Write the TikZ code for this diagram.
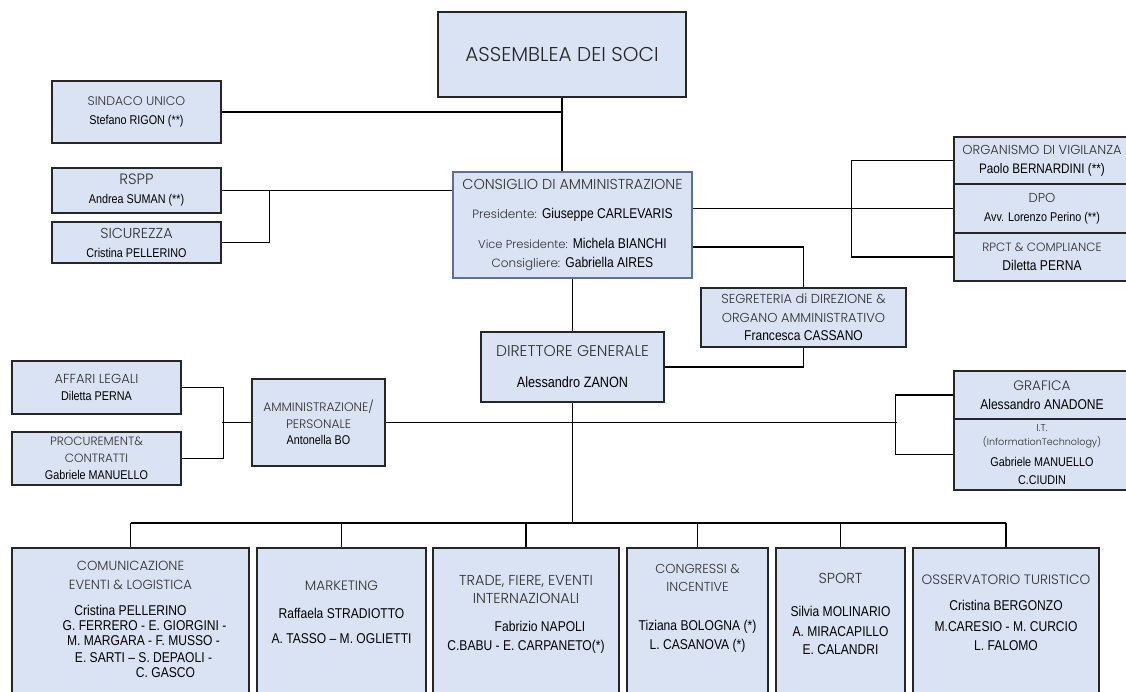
\documentclass[tikz,border=0pt]{standalone}
\usepackage{fontspec}
\usepackage{tikz}
\usetikzlibrary{calc,positioning}

\newfontfamily\headfont{Poppins Light}
\newfontfamily\namefont{Liberation Sans}[FakeStretch=0.85]
\definecolor{BoxFill}{HTML}{DAE3F3}
\definecolor{HeadGray}{HTML}{303030}
\definecolor{CdaBorder}{HTML}{5B7195}
\newcommand\hd[2][13.5]{{\headfont\fontsize{#1}{#1}\selectfont\color{HeadGray}#2}}
\newcommand\nm[2][14.2]{{\namefont\fontsize{#1}{#1}\selectfont #2}}

\begin{document}
\begin{tikzpicture}[x=1pt,y=-1pt]
          \tikzset{UnitBox/.style={draw=black!85, fill=BoxFill, line width=1.1pt, inner sep=0pt,
                                   align=center, font=\fontsize{12}{15}\selectfont},
                   UnitText/.style={inner sep=0pt, align=center, anchor=north, font=\fontsize{12}{15}\selectfont},
                   LinkStyle/.style={line width=1.7pt, black}}
          \useasboundingbox (0,0) rectangle (1126,692);

          % top of the chart
          \node[UnitBox, minimum width=248, minimum height=85] (soci) at (562,54.5)
               {\hd[20]{\color{black!85}ASSEMBLEA DEI SOCI}};
          \node[UnitBox, minimum width=169, minimum height=62] (sindaco) at (136.5,112)
               {\hd[12.5]{SINDACO UNICO}\\[4pt]\nm[12.7]{Stefano RIGON (**)}};
          \node[UnitBox, minimum width=169, minimum height=45] (rspp) at (136.5,190.5)
               {\hd[15]{RSPP}\\[4pt]\nm[12.7]{Andrea SUMAN (**)}};
          \node[UnitBox, minimum width=169, minimum height=41] (sicurezza) at (136.5,242.5)
               {\hd[14.4]{SICUREZZA}\\[4pt]\nm[12.7]{Cristina PELLERINO}};
          \node[UnitBox, draw=CdaBorder, minimum width=239, minimum height=106] (cda) at (572.5,225)
               {\hd[14.4]{CONSIGLIO DI AMMINISTRAZIONE}\\[14pt]
                \hd[12]{Presidente:} \nm{Giuseppe CARLEVARIS}\\[15pt]
                \hd[11.5]{Vice Presidente:} \nm{Michela BIANCHI}\\[4pt]
                \hd[12]{Consigliere:} \nm{Gabriella AIRES}};

          % control bodies on the right
          \node[UnitBox, minimum width=176, minimum height=47] (odv) at (1042,160.5)
               {\hd[13]{ORGANISMO DI VIGILANZA}\\[4pt]\nm[13.8]{Paolo BERNARDINI (**)}};
          \node[UnitBox, minimum width=176, minimum height=49] (dpo) at (1042,208.5)
               {\hd[13]{DPO}\\[4pt]\nm[12.7]{Avv. Lorenzo Perino (**)}};
          \node[UnitBox, minimum width=176, minimum height=48] (rpct) at (1042,257)
               {\hd[12]{RPCT \& COMPLIANCE}\\[4pt]\nm{Diletta PERNA}};
          \node[UnitBox, minimum width=205, minimum height=59] (segreteria) at (803.5,317.5)
               {\hd[13]{SEGRETERIA di DIREZIONE \&}\\[4pt]\hd[13]{ORGANO AMMINISTRATIVO}\\[3pt]\nm{Francesca CASSANO}};
          \node[UnitBox, minimum width=183, minimum height=70] (dg) at (572.5,367)
               {\hd[15.5]{DIRETTORE GENERALE}\\[16pt]\nm[14.9]{Alessandro ZANON}};

          % staff level
          \node[UnitBox, minimum width=169, minimum height=53] (affari) at (96.5,387.5)
               {\hd[13.1]{AFFARI LEGALI}\\[2pt]\nm[12.7]{Diletta PERNA}};
          \node[UnitBox, minimum width=169, minimum height=53] (procurement) at (96.5,458.5)
               {\hd[12]{PROCUREMENT\&}\\[2pt]\hd[12]{CONTRATTI}\\[2pt]\nm[12.7]{Gabriele MANUELLO}};
          \node[UnitBox, minimum width=133, minimum height=87] (amministrazione) at (318.5,422.5)
               {\hd[12.3]{AMMINISTRAZIONE/}\\[2pt]\hd[12.3]{PERSONALE}\\[1pt]\nm[12.7]{Antonella BO}};
          \node[UnitBox, minimum width=176, minimum height=48] (grafica) at (1042,395)
               {\hd[13.7]{GRAFICA}\\[4pt]\nm{Alessandro ANADONE}};
          \node[UnitBox, minimum width=176, minimum height=71] (it) at (1042,454.5)
               {\hd[10]{I.T.}\\[-1pt]\hd[9.6]{(InformationTechnology)}\\[6pt]\nm[12.7]{Gabriele MANUELLO}\\[3pt]\nm[12.7]{C.CIUDIN}};

          % operating areas
          \node[UnitBox, minimum width=237, minimum height=152] (com) at (130.5,624) {};
          \node[UnitBox, minimum width=169, minimum height=152] (mkt) at (341.5,624) {};
          \node[UnitBox, minimum width=186, minimum height=152] (trade) at (526,624) {};
          \node[UnitBox, minimum width=141, minimum height=152] (congressi) at (697.5,624) {};
          \node[UnitBox, minimum width=129, minimum height=152] (sport) at (840.5,624) {};
          \node[UnitBox, minimum width=186, minimum height=152] (osservatorio) at (1006,624) {};

          \node[UnitText, below=14pt of com.north] (com-t)
               {\hd[13.2]{COMUNICAZIONE}\\[4pt]\hd[13.2]{EVENTI \& LOGISTICA}\\[11pt]
                \nm{Cristina PELLERINO}\\[0pt]
                \hspace*{28pt}\nm{G. FERRERO - E. GIORGINI -}\\[0pt]
                \hspace*{26pt}\nm{M. MARGARA - F. MUSSO -}\\[2pt]
                \hspace*{26pt}\nm{E. SARTI – S. DEPAOLI -}\\[0pt]
                \hspace*{70pt}\nm{C. GASCO}};
          \node[UnitText, below=33pt of mkt.north] (mkt-t)
               {\hd[13.6]{MARKETING}\\[13pt]\nm{Raffaela STRADIOTTO}\\[10pt]\nm{A. TASSO – M. OGLIETTI}};
          \node[UnitText, below=28pt of trade.north] (trade-t)
               {\hd[14.4]{TRADE, FIERE, EVENTI}\\[3pt]\hd[14.4]{INTERNAZIONALI}\\[13pt]
                \hspace*{28pt}\nm{Fabrizio NAPOLI}\\[4pt]\nm{C.BABU - E. CARPANETO(*)}};
          \node[UnitText, below=17pt of congressi.north] (congressi-t)
               {\hd[13]{CONGRESSI \&}\\[3pt]\hd[13]{INCENTIVE}\\[24pt]\nm{Tiziana BOLOGNA (*)}\\[4pt]\nm{L. CASANOVA (*)}};
          \node[UnitText, below=26pt of sport.north] (sport-t)
               {\hd[14.5]{SPORT}\\[18pt]\nm{Silvia MOLINARIO}\\[5pt]\nm{A. MIRACAPILLO}\\[3pt]\nm{E. CALANDRI}};
          \node[UnitText, below=27pt of osservatorio.north] (osservatorio-t)
               {\hd[13.6]{OSSERVATORIO TURISTICO}\\[11pt]\nm{Cristina BERGONZO}\\[6pt]\nm{M.CARESIO - M. CURCIO}\\[4pt]\nm{L. FALOMO}};

          \coordinate (bus) at (572.5,523);

          % connectors
          \draw[LinkStyle] (soci.south) -- (soci.south |- cda.north);
          \draw[LinkStyle] (sindaco.east) -- (sindaco.east -| soci.south);
          \draw[LinkStyle] (rspp.east) -- (rspp.east -| cda.west);
          \draw[LinkStyle] (sicurezza.east) -| ($(rspp.east)+(48,0)$);
          \draw[LinkStyle] (cda.east |- dpo.west) -- (dpo.west);
          \draw[LinkStyle] (odv.west) -- ++(-102,0) |- (rpct.west);
          \draw[LinkStyle] ([yshift=-22pt]cda.east) -| (segreteria.north);
          \draw[LinkStyle] (segreteria.south) |- (dg.east);
          \draw[LinkStyle] (cda) -- (dg);
          \draw[LinkStyle] (dg.south) -- (bus);
          \draw[LinkStyle] (affari.east) -- ++(42,0) |- (procurement.east);
          \draw[LinkStyle] (amministrazione.west) -- ++(-29,0);
          \draw[LinkStyle] (amministrazione.east) -- ++(511,0);
          \draw[LinkStyle] (grafica.west) -- ++(-58,0) |- (it.west);
          \draw[LinkStyle] (com.north |- bus) -- (osservatorio.north |- bus);
          \foreach \u in {com,mkt,trade,congressi,sport,osservatorio}
            \draw[LinkStyle] (\u.north) -- (\u.north |- bus);
\end{tikzpicture}
\end{document}
